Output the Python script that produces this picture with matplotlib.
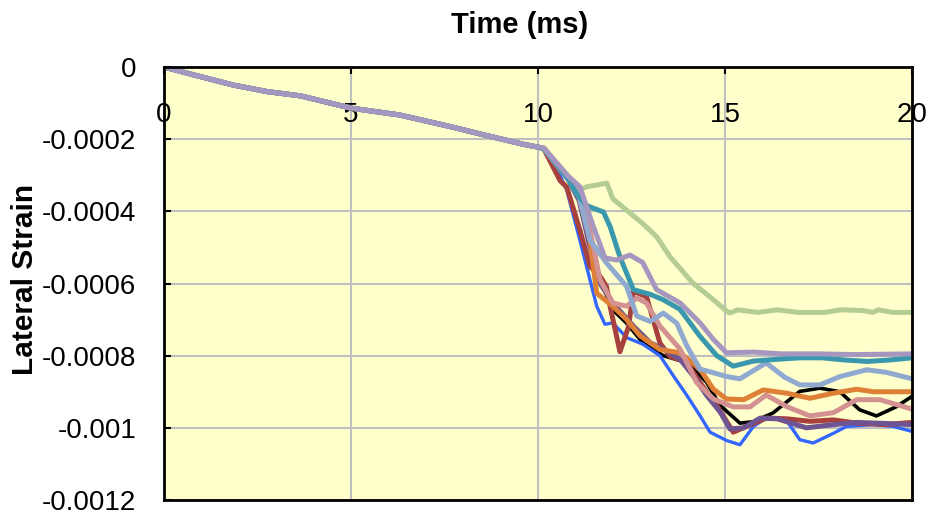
import matplotlib
matplotlib.use("Agg")
import matplotlib.pyplot as plt

plt.rcParams['font.family'] = ['Liberation Sans', 'DejaVu Sans']

# shared early segment (all series coincide)
t_common = [0, 0.8, 1.85, 2.75, 3.65, 5.0, 6.3, 7.65, 8.55, 9.6, 10.0]
v_common = [0, -0.000022, -0.000050, -0.000068, -0.000080, -0.000114,
            -0.000133, -0.000165, -0.000188, -0.000214, -0.000222]

t_black = [10.15, 10.5, 10.8, 11.1, 11.4, 11.7, 12.0, 12.37, 12.8, 13.35, 13.98, 14.51, 14.87,
           15.4, 15.76, 16.28, 17.0, 17.54, 18.07, 18.6, 19.05, 19.57, 20]
v_black = [-0.000226, -0.00027, -0.00031, -0.00037, -0.00049, -0.0006, -0.000673, -0.00071,
           -0.000764, -0.0008, -0.000819, -0.000874, -0.000938, -0.000987, -0.000983, -0.000959,
           -0.000899, -0.00089, -0.0009, -0.00095, -0.000967, -0.000942, -0.000913]

t_blue = [10.15, 10.5, 10.77, 11.12, 11.39, 11.57, 11.79, 12.0, 12.37, 12.8, 13.26, 13.62, 13.98,
          14.33, 14.6, 15.04, 15.4, 15.76, 16.1, 16.65, 17.0, 17.36, 17.9, 18.25, 18.97, 19.5, 20]
v_blue = [-0.000226, -0.00028, -0.000342, -0.00048, -0.00059, -0.000663, -0.000713, -0.000709,
          -0.00075, -0.000768, -0.0008, -0.000856, -0.00091, -0.000966, -0.001012, -0.001035,
          -0.001047, -0.000996, -0.000973, -0.00098, -0.001033, -0.001042, -0.001015, -0.000996,
          -0.000991, -0.000996, -0.00101]

t_red = [10.15, 10.32, 10.59, 10.77, 11.12, 11.39, 11.66, 11.83, 11.93, 12.19, 12.42, 12.55, 12.9,
         13.26, 13.53, 13.98, 14.33, 14.78, 15.22, 15.58, 16.1, 16.65, 17.27, 17.9, 18.52, 19.3, 20]
v_red = [-0.000226, -0.00026, -0.000315, -0.000333, -0.000452, -0.000553, -0.00058, -0.000608,
         -0.000664, -0.000789, -0.00072, -0.000622, -0.000636, -0.000765, -0.000802, -0.000819,
         -0.000874, -0.000938, -0.001012, -0.000996, -0.000973, -0.000975, -0.000982, -0.000978,
         -0.000987, -0.000991, -0.000985]

t_dpurple = [10.15, 10.5, 10.8, 11.1, 11.39, 11.66, 12.0, 12.55, 13.0, 13.44, 13.8, 14.15, 14.51,
             14.87, 15.13, 15.5, 15.94, 16.4, 17.18, 17.9, 18.52, 19.3, 20]
v_dpurple = [-0.000226, -0.00027, -0.00031, -0.00037, -0.0005, -0.0006, -0.000654, -0.000718,
             -0.000764, -0.000787, -0.00081, -0.000856, -0.00091, -0.000956, -0.001003, -0.001,
             -0.000973, -0.000975, -0.001, -0.000991, -0.000985, -0.000988, -0.000991]

t_green = [10.15, 10.6, 11.1, 11.3, 11.84, 12.0, 12.37, 12.8, 13.17, 13.53, 14.15, 14.69, 15.04,
           15.13, 15.34, 15.88, 16.4, 16.95, 17.66, 18.1, 18.68, 18.95, 19.1, 19.47, 20]
v_green = [-0.000226, -0.000285, -0.000342, -0.000332, -0.000322, -0.000365, -0.000397, -0.000434,
           -0.00047, -0.000526, -0.0006, -0.000645, -0.000676, -0.000682, -0.000673, -0.00068,
           -0.000673, -0.00068, -0.00068, -0.000673, -0.000675, -0.00068, -0.000673, -0.00068,
           -0.00068]

t_orange = [10.15, 10.5, 10.8, 11.1, 11.39, 11.57, 12.0, 12.37, 12.73, 13.26, 13.8, 14.33, 14.69,
            15.04, 15.5, 16.02, 16.65, 17.27, 17.9, 18.52, 18.97, 20]
v_orange = [-0.000226, -0.000268, -0.00031, -0.00036, -0.00048, -0.000627, -0.000663, -0.0007,
            -0.000745, -0.000783, -0.000792, -0.000837, -0.000893, -0.00092, -0.000922, -0.000895,
            -0.000904, -0.000918, -0.000904, -0.000893, -0.0009, -0.0009]

t_pink = [10.15, 10.5, 10.8, 11.12, 11.39, 11.66, 12.0, 12.37, 12.64, 12.9, 13.26, 13.8, 14.24,
          14.69, 15.22, 15.67, 16.1, 16.65, 17.27, 17.9, 18.52, 19.14, 20]
v_pink = [-0.000224, -0.000266, -0.000302, -0.000333, -0.000452, -0.00059, -0.000654, -0.000663,
          -0.00064, -0.000654, -0.000718, -0.000782, -0.000874, -0.00092, -0.000942, -0.000942,
          -0.000909, -0.000941, -0.000967, -0.000958, -0.000922, -0.000922, -0.000948]

t_lblue = [10.15, 10.5, 10.8, 11.1, 11.39, 11.84, 12.37, 12.64, 13.0, 13.35, 13.71, 13.98, 14.33,
           14.78, 15.05, 15.4, 16.1, 16.6, 17.0, 17.54, 18.07, 18.79, 19.3, 20]
v_lblue = [-0.000226, -0.00027, -0.00031, -0.00036, -0.00048, -0.000544, -0.000608, -0.00069,
           -0.000705, -0.000682, -0.00071, -0.000773, -0.000837, -0.00085, -0.000858, -0.000864,
           -0.00082, -0.00086, -0.000881, -0.000881, -0.000858, -0.000839, -0.000846, -0.000864]

t_teal = [10.15, 10.5, 10.8, 11.03, 11.3, 11.75, 11.93, 12.19, 12.55, 13.0, 13.35, 13.8, 14.33,
          14.78, 15.22, 15.76, 16.4, 17.0, 17.6, 18.2, 18.8, 19.4, 20]
v_teal = [-0.000226, -0.00027, -0.00031, -0.000351, -0.000384, -0.000402, -0.000443, -0.000526,
          -0.000617, -0.00063, -0.000645, -0.000672, -0.000746, -0.0008, -0.000829, -0.000815,
          -0.00081, -0.000806, -0.000806, -0.000812, -0.000816, -0.000812, -0.000806]

t_lavender = [10.15, 10.5, 10.8, 11.12, 11.48, 11.79, 12.1, 12.46, 12.8, 13.17, 13.8, 14.33, 14.69,
              15.04, 15.76, 16.5, 17.5, 18.5, 20]
v_lavender = [-0.000224, -0.000266, -0.000302, -0.000332, -0.000442, -0.000529, -0.000535,
              -0.000521, -0.000542, -0.000617, -0.000654, -0.000709, -0.000755, -0.000792,
              -0.00079, -0.000795, -0.000795, -0.000797, -0.000795]

series = [
    (t_black, v_black, '#000000', 2.6),
    (t_blue, v_blue, '#3366FF', 2.4),
    (t_red, v_red, '#A8403E', 3.6),
    (t_dpurple, v_dpurple, '#6E5492', 3.6),
    (t_green, v_green, '#B5CC95', 3.6),
    (t_orange, v_orange, '#DE8035', 3.6),
    (t_pink, v_pink, '#D49191', 3.6),
    (t_lblue, v_lblue, '#8FA9D0', 3.6),
    (t_teal, v_teal, '#3A98AE', 3.6),
    (t_lavender, v_lavender, '#A597BF', 3.6),
]

fig = plt.figure(figsize=(9.32, 5.16), dpi=100)
ax = fig.add_axes([164 / 932, 1 - 500 / 516, (912 - 164) / 932, (500 - 67) / 516])
ax.set_facecolor('#FFFFCC')

for t, v, c, lw in series:
    ax.plot(t_common + t, v_common + v, color=c, lw=lw, solid_joinstyle='round')

ax.set_xlim(0, 20)
ax.set_ylim(-0.0012, 0)
ax.set_xticks([0, 5, 10, 15, 20])
ax.set_yticks([0, -0.0002, -0.0004, -0.0006, -0.0008, -0.001, -0.0012])
ax.set_yticklabels(['0', '-0.0002', '-0.0004', '-0.0006', '-0.0008', '-0.001', '-0.0012'])
ax.grid(True, color='#BFBFBF', lw=1.5)
ax.set_axisbelow(True)

ax.tick_params(axis='x', top=True, labeltop=True, bottom=False, labelbottom=False,
               direction='in', length=5, width=1.5, pad=-44, labelsize=20)
ax.tick_params(axis='y', left=True, right=False, direction='in', length=5, width=1.5,
               pad=20, labelsize=20)
for s in ax.spines.values():
    s.set_linewidth(2)
    s.set_color('black')

fig.text(520 / 932, 1 - 25 / 516, 'Time (ms)', ha='center', va='center',
         fontsize=21, fontweight='bold')
fig.text(25 / 932, 1 - 279 / 516, 'Lateral Strain', ha='center', va='center',
         rotation=90, fontsize=21.5, fontweight='bold')

fig.savefig('out.png', dpi=100)
